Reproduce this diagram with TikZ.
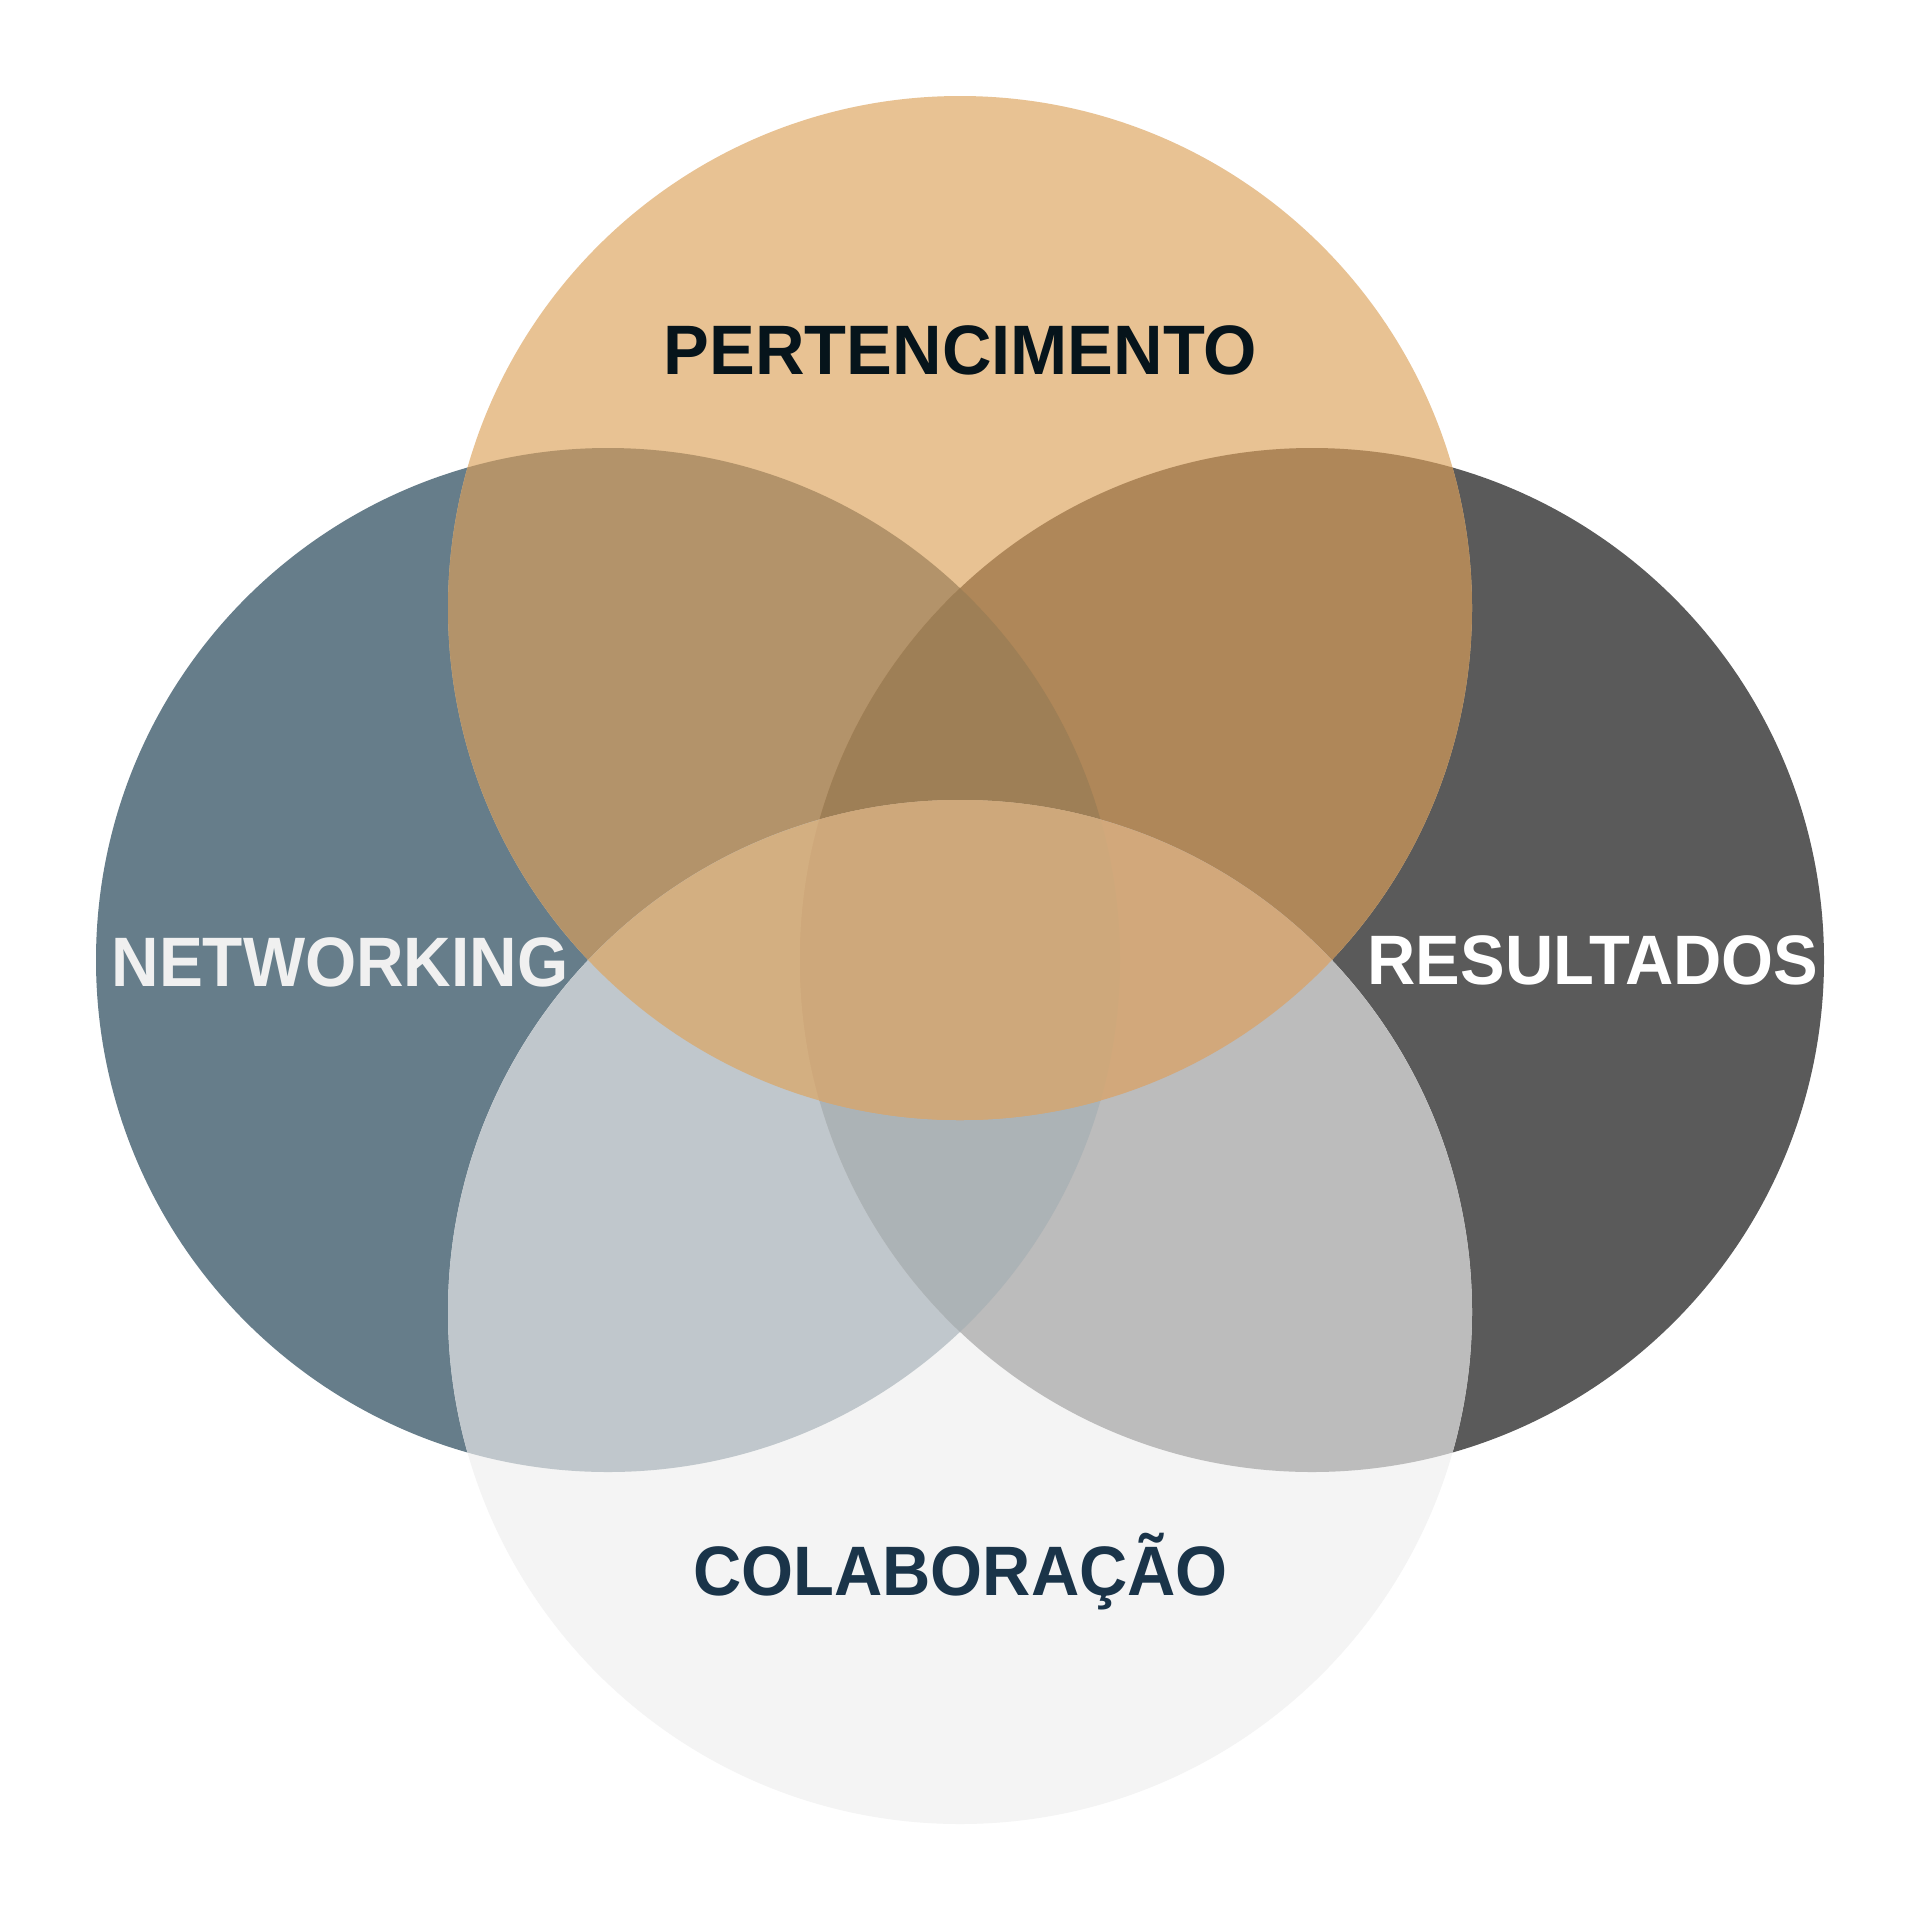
\documentclass[tikz,border=0pt]{standalone}
\usepackage{fontspec}
\setmainfont{Liberation Sans}
\newfontfamily\lblfont[FakeStretch=0.955]{Liberation Sans}
\newfontfamily\lblfontw[FakeStretch=0.98]{Liberation Sans}
\newfontfamily\lblfontn[FakeStretch=0.94]{Liberation Sans}
\definecolor{cT}{HTML}{E8C293}
\definecolor{cL}{HTML}{667D8A}
\definecolor{cR}{HTML}{5A5A5A}
\definecolor{cB}{HTML}{F4F4F4}
\definecolor{cTL}{HTML}{B3936A}
\definecolor{cTR}{HTML}{AF8759}
\definecolor{cBL}{HTML}{C0C7CC}
\definecolor{cBR}{HTML}{BCBCBC}
\definecolor{cTLR}{HTML}{9E7F56}
\definecolor{cBLR}{HTML}{ACB3B6}
\definecolor{cTBL}{HTML}{D3AF81}
\definecolor{cTBR}{HTML}{D2A87B}
\definecolor{cTBLR}{HTML}{CEA87B}
\definecolor{inkTop}{HTML}{06141B}
\definecolor{inkBot}{HTML}{1A3449}
\definecolor{inkLeft}{HTML}{F0F0F0}
\begin{document}
\begin{tikzpicture}[x=1pt,y=-1pt,
  lbl/.style={inner sep=0pt,anchor=base,font=\lblfont\fontsize{70}{70}\selectfont\bfseries},
  lblw/.style={inner sep=0pt,anchor=base,font=\lblfontw\fontsize{70}{70}\selectfont\bfseries},
  lbln/.style={inner sep=0pt,anchor=base,font=\lblfontn\fontsize{70}{70}\selectfont\bfseries}]
\useasboundingbox (0,0) rectangle (1920,1920);
\fill[white] (0,0) rectangle (1920,1920);
\coordinate (T) at (960,608);
\coordinate (L) at (608,960);
\coordinate (R) at (1312,960);
\coordinate (B) at (960,1312);
\def\rr{512}
% single circles
\fill[cL] (L) circle[radius=\rr];
\fill[cR] (R) circle[radius=\rr];
\fill[cB] (B) circle[radius=\rr];
\fill[cT] (T) circle[radius=\rr];
% pairs
\begin{scope}
  \clip (T) circle[radius=\rr];
  \fill[cTL] (L) circle[radius=\rr];
  \fill[cTR] (R) circle[radius=\rr];
\end{scope}
\begin{scope}
  \clip (B) circle[radius=\rr];
  \fill[cBL] (L) circle[radius=\rr];
  \fill[cBR] (R) circle[radius=\rr];
\end{scope}
% triples
\begin{scope}
  \clip (T) circle[radius=\rr];
  \clip (L) circle[radius=\rr];
  \fill[cTLR] (R) circle[radius=\rr];
\end{scope}
\begin{scope}
  \clip (B) circle[radius=\rr];
  \clip (L) circle[radius=\rr];
  \fill[cBLR] (R) circle[radius=\rr];
\end{scope}
\begin{scope}
  \clip (T) circle[radius=\rr];
  \clip (B) circle[radius=\rr];
  \fill[cTBL] (L) circle[radius=\rr];
  \fill[cTBR] (R) circle[radius=\rr];
\end{scope}
% all four
\begin{scope}
  \clip (T) circle[radius=\rr];
  \clip (B) circle[radius=\rr];
  \clip (L) circle[radius=\rr];
  \fill[cTBLR] (R) circle[radius=\rr];
\end{scope}
% labels
\node[lblw,text=inkTop] (pert) at (960.6,374.7) {PERTENCIMENTO};
\node[lbln,text=inkLeft] (netw) at (340,986) {NETWORKING};
\node[lbl,text=white] (resu) at (1593,984) {RESULTADOS};
\node[lbl,text=inkBot] (cola) at (960.6,1595.5) {COLABORAÇÃO};
\end{tikzpicture}
\end{document}
